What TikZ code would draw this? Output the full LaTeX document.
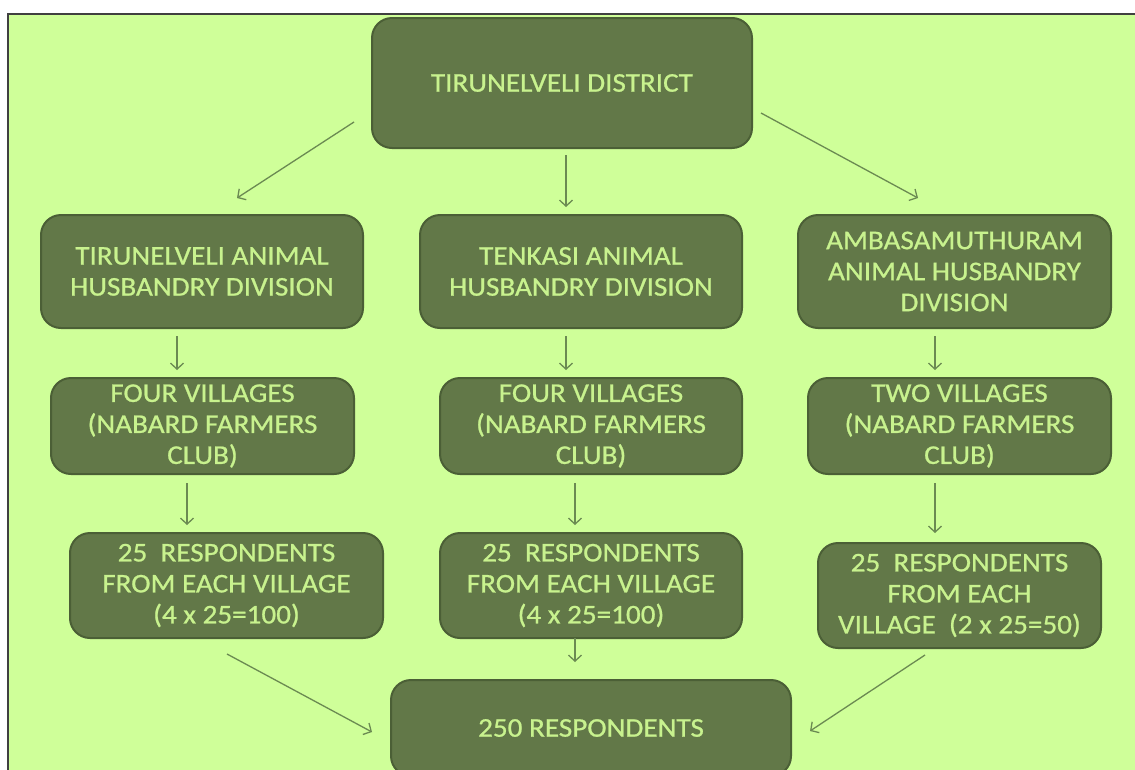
\documentclass[tikz,border=0pt]{standalone}
\usepackage{fontspec}
\setmainfont{Carlito}[FakeStretch=1.08, FakeBold=0.8]
\usetikzlibrary{arrows.meta}
\definecolor{bg}{HTML}{CFFF99}
\definecolor{boxfill}{HTML}{627848}
\definecolor{boxline}{HTML}{4B5F36}
\definecolor{boxtext}{HTML}{C8F28E}
\definecolor{arrowc}{HTML}{6B8A52}
\tikzset{
  box/.style={draw=boxline, line width=2pt, fill=boxfill, rounded corners=20pt,
    text=boxtext, align=center, inner sep=0pt,
    font=\fontsize{27}{31}\selectfont},
  arr/.style={draw=arrowc, line width=1.3pt, -{Straight Barb[length=6pt,width=13pt]}}
}
\begin{document}
\begin{tikzpicture}[x=1pt,y=-1pt]
\useasboundingbox (0,0) rectangle (1135,769);
\begin{scope}
\clip (0,0) rectangle (1135,769);
\fill[white] (0,0) rectangle (1135,769);
\fill[bg] (8,14) rectangle (1140,775);
\draw[black!75, line width=1.2pt] (8,775) -- (8,14) -- (1140,14);

\node[box, minimum width=380pt, minimum height=130pt] (top) at (562,83) {TIRUNELVELI DISTRICT};

\node[box, minimum width=322pt, minimum height=113pt] (L2) at (202,271.5) {TIRUNELVELI ANIMAL\\HUSBANDRY DIVISION};
\node[box, minimum width=322pt, minimum height=113pt] (C2) at (581,271.5) {TENKASI ANIMAL\\HUSBANDRY DIVISION};
\node[box, minimum width=313pt, minimum height=113pt] (R2) at (954.5,271.5) {AMBASAMUTHURAM\\ANIMAL HUSBANDRY\\DIVISION};

\node[box, minimum width=303pt, minimum height=96pt] (L3) at (202.5,426) {FOUR VILLAGES\\(NABARD FARMERS\\CLUB)};
\node[box, minimum width=302pt, minimum height=96pt] (C3) at (591,426) {FOUR VILLAGES\\(NABARD FARMERS\\CLUB)};
\node[box, minimum width=303pt, minimum height=96pt] (R3) at (959.5,426) {TWO VILLAGES\\(NABARD FARMERS\\CLUB)};

\node[box, minimum width=313pt, minimum height=105pt] (L4) at (226.5,585.5) {25\ \ RESPONDENTS\\FROM EACH VILLAGE\\(4 x 25=100)};
\node[box, minimum width=302pt, minimum height=105pt] (C4) at (591,585.5) {25\ \ RESPONDENTS\\FROM EACH VILLAGE\\(4 x 25=100)};
\node[box, minimum width=283pt, minimum height=105pt] (R4) at (959.5,595.5) {25\ \ RESPONDENTS\\FROM EACH\\VILLAGE\ \ (2 x 25=50)};

\node[box, minimum width=400pt, minimum height=96pt] (bot) at (591,728) {250 RESPONDENTS};

\coordinate (a1s) at (354,122); \coordinate (a1e) at (237,198);
\coordinate (a2s) at (566,155); \coordinate (a2e) at (566,207);
\coordinate (a3s) at (761,113); \coordinate (a3e) at (918,198);
\coordinate (b1s) at (177,336); \coordinate (b1e) at (177,370);
\coordinate (b2s) at (566,336); \coordinate (b2e) at (566,370);
\coordinate (b3s) at (935,336); \coordinate (b3e) at (935,370);
\coordinate (c1s) at (187,483); \coordinate (c1e) at (187,525);
\coordinate (c2s) at (575,483); \coordinate (c2e) at (575,525);
\coordinate (c3s) at (935,483); \coordinate (c3e) at (935,533);
\coordinate (d1s) at (227,654); \coordinate (d1e) at (372,732);
\coordinate (d2s) at (575,638); \coordinate (d2e) at (575,662);
\coordinate (d3s) at (925,655); \coordinate (d3e) at (810,731);

\foreach \p in {a1,a2,a3,b1,b2,b3,c1,c2,c3,d1,d2,d3}
  \draw[arr] (\p s) -- (\p e);
\end{scope}
\end{tikzpicture}
\end{document}
